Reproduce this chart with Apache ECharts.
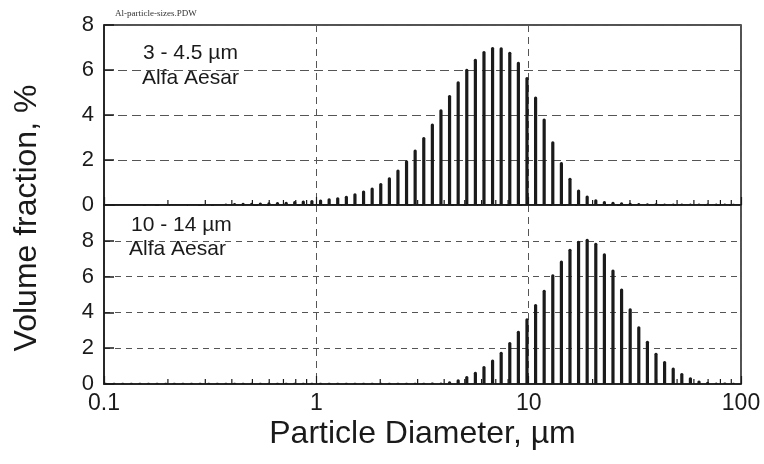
<!DOCTYPE html>
<html>
<head>
<meta charset="utf-8">
<script src="https://cdn.jsdelivr.net/npm/echarts@6/dist/echarts.min.js"></script>
<style>
html,body{margin:0;padding:0;background:#fff;}
#chart{width:764px;height:464px;}
</style>
</head>
<body>
<div id="chart"></div>
<script>
// Channel diameters (µm)
const diameters = [
  0.1016, 0.1116, 0.1225, 0.1345, 0.1476, 0.162, 0.1779, 0.1953, 0.2144, 0.2353,
  0.2583, 0.2836, 0.3113, 0.3417, 0.375, 0.412, 0.452, 0.496, 0.545, 0.598,
  0.656, 0.721, 0.791, 0.868, 0.953, 1.047, 1.149, 1.261, 1.385, 1.52,
  1.669, 1.832, 2.011, 2.208, 2.423, 2.66, 2.92, 3.206, 3.519, 3.863,
  4.241, 4.656, 5.111, 5.611, 6.159, 6.761, 7.422, 8.148, 8.944, 9.819,
  10.78, 11.83, 12.99, 14.26, 15.65, 17.18, 18.86, 20.71, 22.73, 24.95,
  27.39, 30.07, 33.01, 36.24, 39.78, 43.67, 47.94, 52.63, 57.77, 63.42,
  69.62, 76.43, 83.9, 92.1
];
// Top panel (3 - 4.5 µm) starts at the 0.375 µm channel
const topStartIndex = 14;
const topFraction = [
  0.07, 0.09, 0.10, 0.10, 0.11, 0.12, 0.13, 0.15, 0.18, 0.20,
  0.22, 0.25, 0.30, 0.34, 0.41, 0.52, 0.64, 0.78, 0.98, 1.23,
  1.58, 1.99, 2.47, 3.02, 3.62, 4.26, 4.89, 5.50, 6.06, 6.50,
  6.84, 7.02, 7.01, 6.81, 6.37, 5.69, 4.82, 3.84, 2.83, 1.91,
  1.21, 0.69, 0.42, 0.26, 0.18, 0.14, 0.12, 0.10, 0.09, 0.08,
  0.08, 0.07, 0.07, 0.07, 0.07, 0.07, 0.07, 0.07, 0.07, 0.06
];
// Bottom panel (10 - 14 µm), all channels
const bottomFraction = [
  0.07, 0.07, 0.07, 0.07, 0.07, 0.07, 0.07, 0.07, 0.07, 0.07,
  0.07, 0.07, 0.07, 0.07, 0.07, 0.07, 0.07, 0.07, 0.07, 0.07,
  0.07, 0.07, 0.07, 0.07, 0.07, 0.07, 0.07, 0.07, 0.07, 0.07,
  0.07, 0.07, 0.07, 0.07, 0.07, 0.07, 0.07, 0.07, 0.08, 0.09,
  0.15, 0.27, 0.44, 0.68, 1.01, 1.37, 1.80, 2.35, 2.97, 3.68,
  4.47, 5.27, 6.13, 6.90, 7.55, 8.00, 8.11, 7.89, 7.31, 6.39,
  5.34, 4.23, 3.22, 2.42, 1.75, 1.28, 0.92, 0.62, 0.38, 0.20,
  0.13, 0.09, 0.08, 0.07
];
const minorTicks = [0.2,0.3,0.4,0.5,0.6,0.7,0.8,0.9,2,3,4,5,6,7,8,9,20,30,40,50,60,70,80,90];
const xTickLabels = ['0.1', '1', '10', '100'];
const topLabels = ['3 - 4.5 µm', 'Alfa Aesar'];
const bottomLabels = ['10 - 14 µm', 'Alfa Aesar'];

const topData = topFraction.map((v, i) => [diameters[i + topStartIndex], v]);
const bottomData = bottomFraction.map((v, i) => [diameters[i], v]);
const tickData = minorTicks.map(v => [v, 0]);

const FONT = '"Liberation Sans", Arial, sans-serif';
const INK = '#1a1a1a';

function barItem(params, api) {
  const x = api.value(0), y = api.value(1);
  const top = api.coord([x, y]);
  const base = api.coord([x, 0]);
  const w = 3.2;
  return {
    type: 'rect',
    shape: { x: top[0] - w / 2, y: top[1], width: w, height: Math.max(base[1] - top[1], 0), r: [1.5, 1.5, 0, 0] },
    style: { fill: INK }
  };
}
function tickItem(params, api) {
  const p = api.coord([api.value(0), 0]);
  return {
    type: 'line',
    shape: { x1: p[0], y1: p[1], x2: p[0], y2: p[1] - 5 },
    style: { stroke: INK, lineWidth: 1.2 }
  };
}

const xLabelFormatter = v => {
  const s = String(Math.round(v * 10) / 10);
  return xTickLabels.indexOf(s) >= 0 ? s : '';
};

function xAxisCfg(gi, showLabel) {
  return {
    type: 'log', logBase: 10, gridIndex: gi, min: 0.1, max: 100,
    axisLine: { show: true, lineStyle: { color: INK, width: 1.5 } },
    axisTick: { show: true, inside: true, length: 8, lineStyle: { color: INK, width: 1.2 } },
    axisLabel: showLabel ? { show: true, color: INK, fontSize: 23, fontFamily: FONT, margin: 8, formatter: xLabelFormatter, showMinLabel: true, showMaxLabel: true } : { show: false },
    splitLine: { show: true, lineStyle: { color: '#555', width: 1, type: [7, 5] } },
    name: showLabel ? 'Particle Diameter, µm' : '',
    nameLocation: 'middle', nameGap: 34,
    nameTextStyle: { color: INK, fontSize: 32, fontFamily: FONT }
  };
}
function yAxisCfg(gi, max, dash, showMax) {
  return {
    type: 'value', gridIndex: gi, min: 0, max: max, interval: 2,
    axisLine: { show: true, lineStyle: { color: INK, width: 1.5 } },
    axisTick: { show: true, inside: true, length: 10, lineStyle: { color: INK, width: 1.5 } },
    axisLabel: { color: INK, fontSize: 22, fontFamily: FONT, margin: 10, showMaxLabel: showMax },
    splitLine: { show: true, lineStyle: { color: '#555', width: 1, type: dash } }
  };
}

const chart = echarts.init(document.getElementById('chart'), null, { renderer: 'canvas' });
chart.setOption({
  backgroundColor: '#ffffff',
  animation: false,
  grid: [
    { left: 104, right: 23, top: 25, height: 180, show: true, borderColor: INK, borderWidth: 1.5, backgroundColor: 'transparent' },
    { left: 104, right: 23, top: 205, height: 179, show: true, borderColor: INK, borderWidth: 1.5, backgroundColor: 'transparent' }
  ],
  xAxis: [xAxisCfg(0, false), xAxisCfg(1, true)],
  yAxis: [yAxisCfg(0, 8, [9, 5], true), yAxisCfg(1, 10, [6, 5], false)],
  graphic: [
    { type: 'text', left: 115, top: 9, style: { text: 'Al-particle-sizes.PDW', font: '9px "Liberation Serif", "Times New Roman", serif', fill: '#333' } },
    { type: 'text', left: 143, top: 43, style: { text: topLabels[0], font: '21px ' + FONT, fill: INK } },
    { type: 'text', left: 142, top: 68, style: { text: topLabels[1], font: '21px ' + FONT, fill: INK } },
    { type: 'text', left: 131, top: 215, style: { text: bottomLabels[0], font: '21px ' + FONT, fill: INK } },
    { type: 'text', left: 129, top: 239, style: { text: bottomLabels[1], font: '21px ' + FONT, fill: INK } },
    { type: 'text', x: 27, y: 218, rotation: Math.PI / 2,
      style: { text: 'Volume fraction, %', font: '32px ' + FONT, fill: INK, align: 'center', verticalAlign: 'middle' } }
  ],
  series: [
    { type: 'custom', xAxisIndex: 0, yAxisIndex: 0, data: topData, renderItem: barItem, encode: { x: 0, y: 1 }, clip: true },
    { type: 'custom', xAxisIndex: 1, yAxisIndex: 1, data: bottomData, renderItem: barItem, encode: { x: 0, y: 1 }, clip: true },
    { type: 'custom', xAxisIndex: 0, yAxisIndex: 0, data: tickData, renderItem: tickItem, encode: { x: 0, y: 1 } },
    { type: 'custom', xAxisIndex: 1, yAxisIndex: 1, data: tickData, renderItem: tickItem, encode: { x: 0, y: 1 } }
  ]
});
</script>
</body>
</html>
